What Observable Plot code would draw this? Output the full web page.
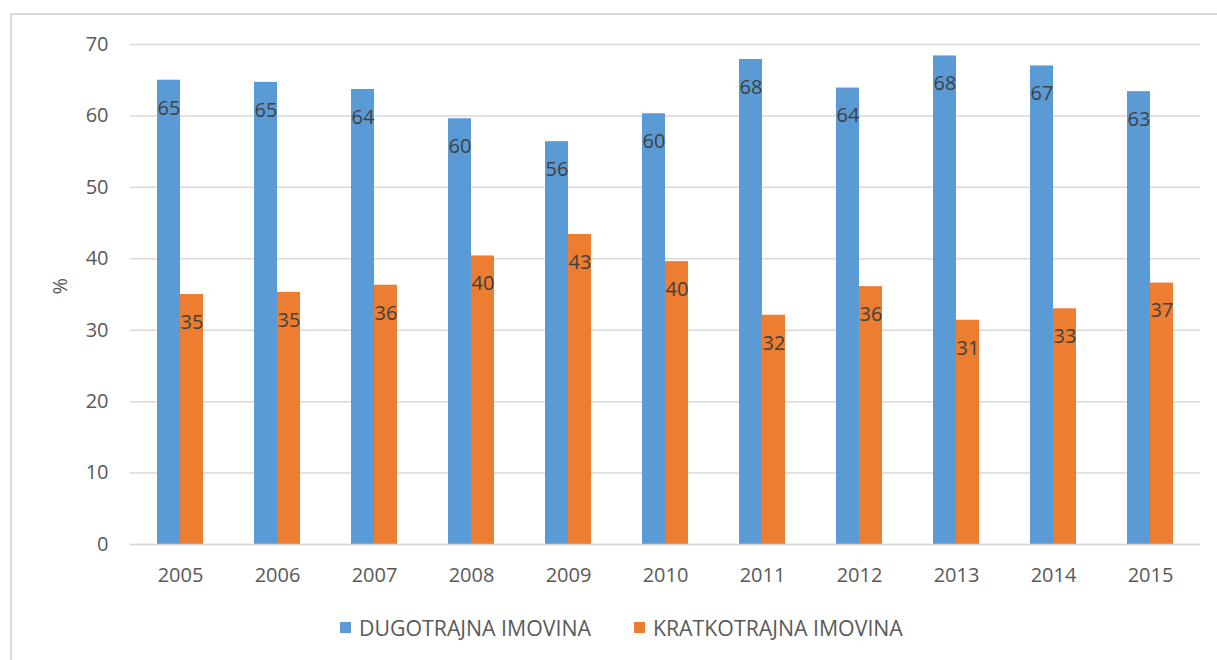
<!DOCTYPE html>
<html>
<head>
<meta charset="utf-8">
<script src="https://cdn.jsdelivr.net/npm/d3@7"></script>
<script src="https://cdn.jsdelivr.net/npm/@observablehq/plot@0.6"></script>
<style>
  html, body { margin: 0; padding: 0; background: #fff; width: 1217px; height: 660px; overflow: hidden; }
  #frame { position: absolute; left: 10px; top: 13px; width: 1230px; height: 700px;
           border-left: 2px solid #d9d9d9; border-top: 2px solid #d9d9d9; }
  #chart { position: absolute; left: 0; top: 0; }
  .legend { position: absolute; top: 613px; left: 340px; display: flex; align-items: center;
            font-family: "Open Sans", sans-serif; font-size: 21.3px; color: #595959; white-space: nowrap; }
  .legend .sw { width: 11px; height: 11px; display: inline-block; margin-right: 8px; }
  .legend .item { display: flex; align-items: center; margin-right: 43px; }
</style>
</head>
<body>
<div id="frame"></div>
<div id="chart"></div>
<div class="legend" id="legend"></div>
<script>
const years = ["2005","2006","2007","2008","2009","2010","2011","2012","2013","2014","2015"];
const dugotrajna = [65.0, 64.7, 63.7, 59.6, 56.4, 60.3, 67.9, 63.9, 68.4, 67.0, 63.4];
const kratkotrajna = [35.0, 35.3, 36.3, 40.4, 43.4, 39.6, 32.1, 36.1, 31.4, 33.0, 36.6];
const seriesNames = ["DUGOTRAJNA IMOVINA", "KRATKOTRAJNA IMOVINA"];
const seriesColors = ["#5B9BD5", "#ED7D31"];
const yTicks = [0, 10, 20, 30, 40, 50, 60, 70];

const blue = years.map((y, i) => ({year: y, value: dugotrajna[i]}));
const orange = years.map((y, i) => ({year: y, value: kratkotrajna[i]}));

const width = 1217, height = 600;
const marginLeft = 130, marginRight = 17;
const step = (width - marginLeft - marginRight) / years.length;
const pIn = 0.527;
const half = step * (1 - pIn) / 2;

const font = '"Open Sans", sans-serif';
const chart = Plot.plot({
  width, height,
  marginLeft, marginRight, marginTop: 44, marginBottom: 56,
  style: {fontFamily: font, fontSize: "20px", color: "#595959", background: "transparent", overflow: "visible"},
  x: {domain: years, paddingInner: pIn, paddingOuter: pIn / 2, label: null},
  y: {domain: [0, 70], label: null},
  marks: [
    Plot.gridY(yTicks, {stroke: "#d9d9d9", strokeOpacity: 1, strokeWidth: 1.5}),
    Plot.barY(blue, {x: "year", y: "value", fill: seriesColors[0], insetRight: half}),
    Plot.barY(orange, {x: "year", y: "value", fill: seriesColors[1], insetLeft: half}),
    Plot.text(blue, {x: "year", y: "value", text: d => Math.round(d.value), dx: -half / 2, dy: 28, fill: "#404040", fontSize: 20}),
    Plot.text(orange, {x: "year", y: "value", text: d => Math.round(d.value), dx: half / 2, dy: 28, fill: "#404040", fontSize: 20}),
    Plot.ruleY([0], {stroke: "#d9d9d9", strokeWidth: 1.5}),
    Plot.axisY({ticks: yTicks, tickSize: 0, tickPadding: 22, label: null, fill: "#595959"}),
    Plot.axisX({tickSize: 0, tickPadding: 23, label: null, fill: "#595959"}),
    Plot.text(["%"], {frameAnchor: "left", dx: -70, rotate: -90, fill: "#595959", fontSize: 20})
  ]
});
document.getElementById("chart").appendChild(chart);

const legend = document.getElementById("legend");
seriesNames.forEach((name, i) => {
  const item = document.createElement("span");
  item.className = "item";
  const sw = document.createElement("span");
  sw.className = "sw";
  sw.style.background = seriesColors[i];
  item.appendChild(sw);
  item.appendChild(document.createTextNode(name));
  legend.appendChild(item);
});
</script>
</body>
</html>
